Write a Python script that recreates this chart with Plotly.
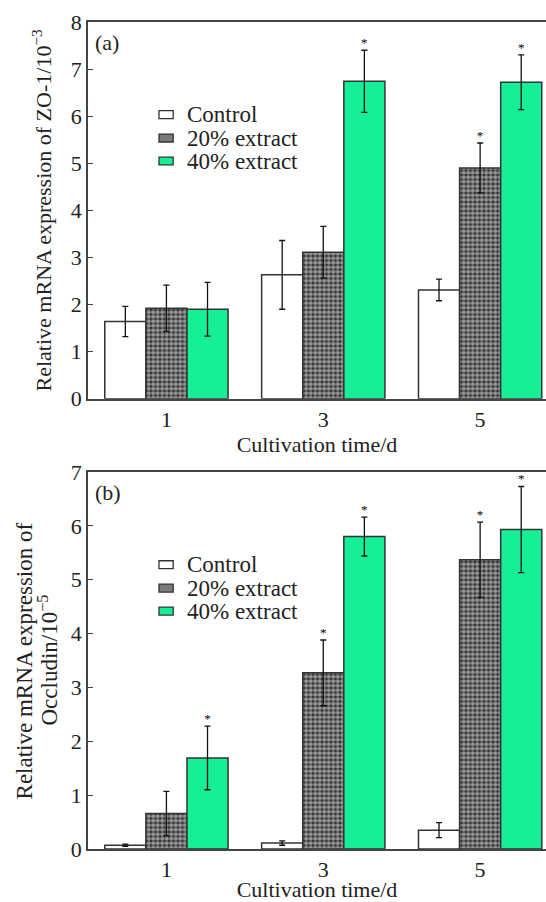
import plotly.graph_objects as go

days = ["1", "3", "5"]
series = ["Control", "20% extract", "40% extract"]

zo1_control = [1.64, 2.63, 2.31]
zo1_control_err = [0.32, 0.73, 0.23]
zo1_20 = [1.92, 3.11, 4.90]
zo1_20_err = [0.49, 0.55, 0.53]
zo1_40 = [1.90, 6.74, 6.72]
zo1_40_err = [0.57, 0.66, 0.58]
zo1_sig = [[False, False, False], [False, False, True], [False, True, True]]

occ_control = [0.07, 0.11, 0.35]
occ_control_err = [0.02, 0.04, 0.14]
occ_20 = [0.66, 3.27, 5.37]
occ_20_err = [0.41, 0.61, 0.70]
occ_40 = [1.69, 5.80, 5.93]
occ_40_err = [0.59, 0.36, 0.80]
occ_sig = [[False, False, False], [False, True, True], [True, True, True]]

FONT = "Liberation Serif, Times New Roman, Times, DejaVu Serif, serif"
TXT = "#222222"
GREEN = "#16EF96"
EDGE = "#333333"
BARGAP = 0.214
xpos = list(range(len(days)))
bw = (1 - BARGAP) / 3

fills = [dict(color="white"),
         dict(color="#2b2b2b", pattern=dict(shape=".", bgcolor="#2b2b2b", fgcolor="white", size=4.5, solidity=0.68)),
         dict(color=GREEN)]
legend_swatch = ["white", "#7a7a7a", GREEN]

fig = go.Figure()

def add_panel(vals, errs, sigs, xa, ya):
    for j, (name, v, e) in enumerate(zip(series, vals, errs)):
        fig.add_trace(go.Bar(
            x=xpos, y=v, name=name, xaxis=xa, yaxis=ya, offsetgroup=str(j), showlegend=False,
            marker=dict(**fills[j], line=dict(color=EDGE, width=1.5)),
            error_y=dict(type="data", array=e, color="#111", thickness=1.3, width=3),
        ))
    sx, sy = [], []
    for j, (v, e) in enumerate(zip(vals, errs)):
        for i in range(len(days)):
            if sigs[j][i]:
                sx.append(xpos[i] + (j - 1) * bw)
                sy.append(v[i] + e[i])
    fig.add_trace(go.Scatter(x=sx, y=sy, mode="text", text=["*"] * len(sx),
                             textposition="top center", textfont=dict(family=FONT, size=13, color="black"),
                             xaxis=xa, yaxis=ya, showlegend=False, hoverinfo="skip", cliponaxis=False))

add_panel([zo1_control, zo1_20, zo1_40], [zo1_control_err, zo1_20_err, zo1_40_err], zo1_sig, "x", "y")
add_panel([occ_control, occ_20, occ_40], [occ_control_err, occ_20_err, occ_40_err], occ_sig, "x2", "y2")

axis_common = dict(showline=True, linecolor="#444", linewidth=1.5, showgrid=False, zeroline=False,
                   tickfont=dict(family=FONT, size=22, color=TXT))
title_font = dict(family=FONT, size=22, color=TXT)

# manual compact legend (swatch + label) inside each panel
shapes, annotations = [], []
legend_rows = [0.754, 0.692, 0.631]
for xa, ya in (("x", "y"), ("x2", "y2")):
    for j, name in enumerate(series):
        yc = legend_rows[j]
        shapes.append(dict(type="rect", xref=f"{xa} domain", yref=f"{ya} domain",
                           x0=0.155, x1=0.186, y0=yc - 0.0105, y1=yc + 0.0105,
                           fillcolor=legend_swatch[j], line=dict(color=EDGE, width=1.3)))
        annotations.append(dict(text=name, xref=f"{xa} domain", yref=f"{ya} domain",
                                x=0.212, y=yc, xanchor="left", yanchor="middle", showarrow=False,
                                font=dict(family=FONT, size=23, color=TXT)))
annotations.append(dict(text="(a)", xref="x domain", yref="y domain", x=0.01, y=0.985, xanchor="left",
                        yanchor="top", showarrow=False, font=dict(family=FONT, size=22, color=TXT)))
annotations.append(dict(text="(b)", xref="x2 domain", yref="y2 domain", x=0.01, y=0.985, xanchor="left",
                        yanchor="top", showarrow=False, font=dict(family=FONT, size=22, color=TXT)))
# two-line y title of panel (b), with the tight line spacing of the original
occ_title_lines = ["Relative mRNA expression of", "Occludin/10<sup>−5</sup>"]
for k, (line, xp) in enumerate(zip(occ_title_lines, (-0.1376, -0.0873))):
    annotations.append(dict(text=line, xref="paper", yref="y2 domain", x=xp, y=0.5,
                            xanchor="center", yanchor="middle", textangle=-90, showarrow=False,
                            font=dict(family=FONT, size=23, color=TXT)))

fig.update_layout(
    width=546, height=902,
    margin=dict(l=88, r=0, t=22, b=53),
    plot_bgcolor="white", paper_bgcolor="white",
    barmode="group", bargap=BARGAP, bargroupgap=0,
    font=dict(family=FONT, color=TXT),
    showlegend=False,
    xaxis=dict(domain=[0, 1], anchor="y", range=[-0.5, 2.42], tickvals=xpos, ticktext=days,
               ticks="", mirror=True,
               title=dict(text="Cultivation time/d", font=title_font, standoff=0),
               **axis_common),
    yaxis=dict(domain=[0.5445, 1], anchor="x", range=[0, 8], dtick=1, ticks="inside", ticklen=5,
               tickcolor="#444",
               title=dict(text="Relative mRNA expression of ZO-1/10<sup>−3</sup>", font=title_font, standoff=13),
               **axis_common),
    xaxis2=dict(domain=[0, 1], anchor="y2", range=[-0.5, 2.42], tickvals=xpos, ticktext=days,
                ticks="", mirror=True,
                title=dict(text="Cultivation time/d", font=title_font, standoff=0),
                **axis_common),
    yaxis2=dict(domain=[0, 0.4559], anchor="x2", range=[0, 7], dtick=1, ticks="inside", ticklen=5,
                tickcolor="#444", **axis_common),
    shapes=shapes,
    annotations=annotations,
)

fig.write_html("out.html", config={"displayModeBar": False},
               post_script="document.body.style.margin='0';document.body.style.overflow='hidden';")
